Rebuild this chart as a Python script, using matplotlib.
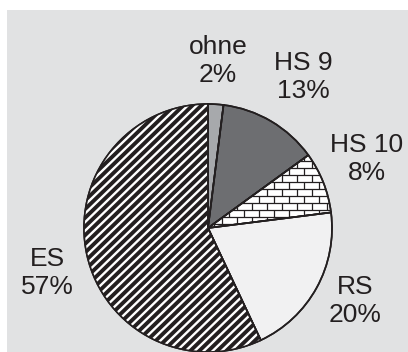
import numpy as np
import matplotlib
matplotlib.use("Agg")
from matplotlib import pyplot as plt
from matplotlib.patches import Rectangle
from matplotlib.collections import LineCollection

plt.rcParams["font.family"] = ["Liberation Sans", "DejaVu Sans"]

# Anteile
labels = ["ohne", "HS 9", "HS 10", "RS", "ES"]
values = [2, 13, 8, 20, 57]
colors = ["#a7a9ac", "#6d6e71", "#ffffff", "#f1f1f2", "#231f20"]

ink = "#231f20"
W, H = 408, 352
cx, cy, r = 208, 228, 124  # Pixel

fig = plt.figure(figsize=(W / 100, H / 100), dpi=100)
fig.patch.set_facecolor("white")
fig.patches.append(Rectangle((7 / W, 0), 1 - 7 / W, (H - 10) / H,
                             transform=fig.transFigure, facecolor="#e1e2e3",
                             edgecolor="none", zorder=-5))

ax = fig.add_axes([0, 0, 1, 1])
ax.axis("off")
ax.patch.set_alpha(0)


def limits():
    ax.set_aspect("auto")
    ax.set_xlim(-cx / r, (W - cx) / r)
    ax.set_ylim((cy - H) / r, cy / r)


wedges, _ = ax.pie(values, colors=colors, startangle=90, counterclock=False,
                   radius=1, wedgeprops=dict(edgecolor=ink, linewidth=1.2))
limits()

# ES: weiße Schrägstreifen auf schwarz
ang = np.deg2rad(44)
dx = 9.0 / r  # horizontaler Abstand
d = np.array([np.cos(ang), np.sin(ang)]) * 3
stripes = []
for x0 in np.arange(-3, 3, dx):
    stripes.append([(x0 - d[0], -d[1]), (x0 + d[0], d[1])])
sc = LineCollection(stripes, colors="white", linewidths=1.7, zorder=3)
ax.add_collection(sc)
sc.set_clip_path(wedges[4])

# HS 10: Ziegelmuster
bw, bh = 15 / r, 7 / r
segs = []
rows = np.arange(-1.1, 1.1, bh)
for i, y0 in enumerate(rows):
    segs.append([(-1.1, y0), (1.1, y0)])
    off = 0 if i % 2 == 0 else bw / 2
    for x0 in np.arange(-1.1 + off, 1.1, bw):
        segs.append([(x0, y0), (x0, y0 + bh)])
lc = LineCollection(segs, colors=ink, linewidths=0.9, zorder=3)
ax.add_collection(lc)
lc.set_clip_path(wedges[2])

# Konturen obenauf
outline, _ = ax.pie(values, colors=["none"] * 5, startangle=90, counterclock=False,
                    radius=1, wedgeprops=dict(edgecolor=ink, linewidth=1.2, fill=False))
for w in outline:
    w.set_zorder(4)
limits()

# Beschriftungen (Pixelpositionen)
pos = {"ohne": (218, 61), "HS 9": (303, 77), "HS 10": (367, 159),
       "RS": (355, 301), "ES": (47, 273)}
for lab, val in zip(labels, values):
    px, py = pos[lab]
    ax.text((px - cx) / r, (cy - py) / r, f"{lab}\n{val}%", ha="center",
            va="center", fontsize=19, color=ink, linespacing=1.2)

fig.savefig("out.png", dpi=100)
